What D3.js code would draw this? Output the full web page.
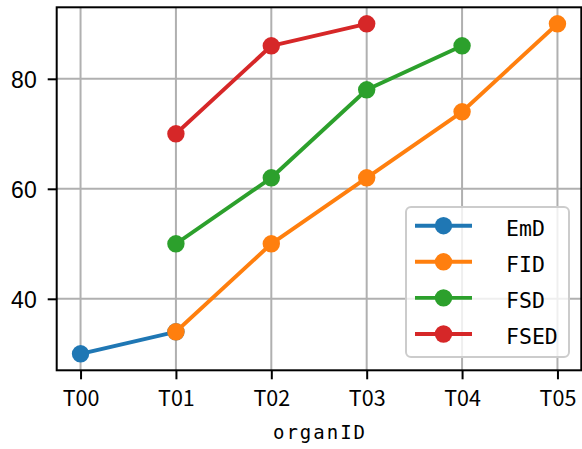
<!DOCTYPE html>
<html><head><meta charset="utf-8">
<script src="https://cdn.jsdelivr.net/npm/d3@7"></script>
<style>html,body{margin:0;padding:0;background:#fff;}svg{display:block;}</style>
</head><body>
<script>
const categories = ["T00","T01","T02","T03","T04","T05"];
const seriesNames = ["EmD","FID","FSD","FSED"];
const colors = ["#1f77b4","#ff7f0e","#2ca02c","#d62728"];
// values by category index (null = no point)
const EmD  = [30, 34, null, null, null, null];
const FID  = [null, 34, 50, 62, 74, 90];
const FSD  = [null, 50, 62, 78, 86, null];
const FSED = [null, 70, 86, 90, null, null];
const yTicks = [40, 60, 80];
const xLabel = "organID";

const seriesValues = [EmD, FID, FSD, FSED];

const W = 582, H = 449;
const L = 56.7, R = 581.3, T = 7.3, B = 370.3;

const svg = d3.select("body").append("svg").attr("width", W).attr("height", H);

const x = d3.scaleLinear().domain([-0.25, categories.length - 1 + 0.25]).range([L, R]);
const y = d3.scaleLinear().domain([27, 93]).range([B, T]);

// grid
const g = svg.append("g");
g.selectAll("line.gx").data(categories.map((c,i)=>i)).enter().append("line")
  .attr("x1", d=>x(d)).attr("x2", d=>x(d)).attr("y1", T).attr("y2", B)
  .attr("stroke", "#b0b0b0").attr("stroke-width", 2);
g.selectAll("line.gy").data(yTicks).enter().append("line")
  .attr("x1", L).attr("x2", R).attr("y1", d=>y(d)).attr("y2", d=>y(d))
  .attr("stroke", "#b0b0b0").attr("stroke-width", 2);

// series
seriesValues.forEach((vals, si) => {
  const pts = vals.map((v,i)=>({i, v})).filter(d => d.v !== null);
  const line = d3.line().x(d=>x(d.i)).y(d=>y(d.v));
  svg.append("path").datum(pts).attr("d", line)
    .attr("fill", "none").attr("stroke", colors[si]).attr("stroke-width", 3.9)
    .attr("stroke-linecap", "square").attr("stroke-linejoin", "round");
  svg.selectAll(null).data(pts).enter().append("circle")
    .attr("cx", d=>x(d.i)).attr("cy", d=>y(d.v)).attr("r", 8.7)
    .attr("fill", colors[si]);
});

// axes
const xAxis = d3.axisBottom(x).tickValues(categories.map((c,i)=>i))
  .tickFormat(i => categories[i]).tickSize(9).tickPadding(5);
const gx = svg.append("g").attr("transform", `translate(0,${B})`).call(xAxis);
gx.select(".domain").remove();
gx.selectAll(".tick line").attr("stroke", "#000").attr("stroke-width", 2);
gx.selectAll(".tick text").attr("font-family", "'Noto Sans CJK SC', sans-serif")
  .attr("font-size", 21.5).attr("fill", "#000").attr("dy", null).attr("y", 36)
  .attr("dominant-baseline", "alphabetic");

const yAxis = d3.axisLeft(y).tickValues(yTicks).tickSize(9).tickPadding(11);
const gy = svg.append("g").attr("transform", `translate(${L},0)`).call(yAxis);
gy.select(".domain").remove();
gy.selectAll(".tick line").attr("stroke", "#000").attr("stroke-width", 2);
gy.selectAll(".tick text").attr("font-family", "'Liberation Sans', Arial, sans-serif")
  .attr("font-size", 23).attr("fill", "#000").attr("dy", null).attr("y", 8.3);

// spines
svg.append("rect").attr("x", L).attr("y", T).attr("width", R-L).attr("height", B-T)
  .attr("fill", "none").attr("stroke", "#000").attr("stroke-width", 2);

// x label
svg.append("text").attr("x", (L+R)/2 + 1).attr("y", 439)
  .attr("text-anchor", "middle")
  .attr("font-family", "'DejaVu Sans Mono', monospace").attr("font-size", 19)
  .attr("letter-spacing", 2).attr("fill", "#000").text(xLabel);

// legend
const lg = svg.append("g");
lg.append("rect").attr("x", 406).attr("y", 207).attr("width", 163).attr("height", 150)
  .attr("rx", 5).attr("ry", 5)
  .attr("fill", "#fff").attr("fill-opacity", 0.8)
  .attr("stroke", "#cccccc").attr("stroke-width", 2);
const rowY0 = 225.7, rowStep = 36.1;
seriesNames.forEach((name, si) => {
  const cy = rowY0 + si*rowStep;
  lg.append("line").attr("x1", 415).attr("x2", 472).attr("y1", cy).attr("y2", cy)
    .attr("stroke", colors[si]).attr("stroke-width", 3.9);
  lg.append("circle").attr("cx", 443.5).attr("cy", cy).attr("r", 8.7).attr("fill", colors[si]);
  lg.append("text").attr("x", 506).attr("y", cy + 10)
    .attr("font-family", "'DejaVu Sans Mono', monospace").attr("font-size", 21.5)
    .attr("fill", "#000").text(name);
});
</script>
</body></html>
